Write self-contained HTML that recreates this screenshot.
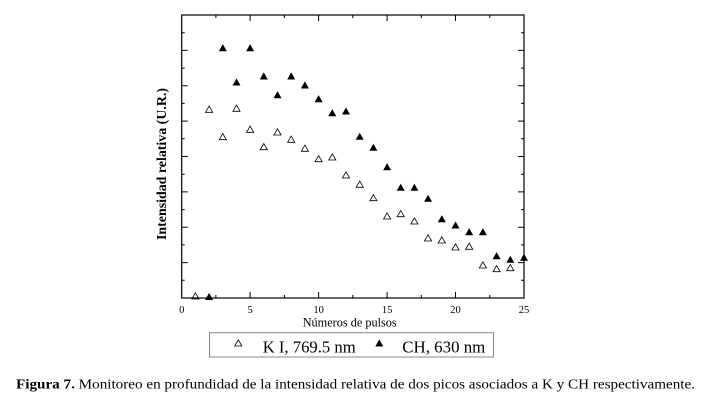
<!DOCTYPE html>
<html><head><meta charset="utf-8"><style>
html,body{margin:0;padding:0;background:#fff;}
svg{display:block;font-family:"Liberation Serif",serif;}
text{font-family:"Liberation Serif",serif;fill:#000;}
</style></head><body>
<svg width="707" height="401" viewBox="0 0 707 401" xmlns="http://www.w3.org/2000/svg" font-family="Liberation Serif, serif">
<defs>
<path id="f" d="M-4,3.5 L4,3.5 L0,-3.6 Z" fill="#000"/>
<path id="o" d="M-3.6,3 L3.6,3 L0,-3.2 Z" fill="none" stroke="#000" stroke-width="0.8"/>
</defs>
<rect x="181.7" y="15" width="342.3" height="283" fill="none" stroke="#000" stroke-width="1.2"/>
<g stroke="#000" stroke-width="1">
<path d="M181.7,32.7h3 M181.7,50.4h6 M181.7,68.1h3 M181.7,85.8h6 M181.7,103.4h3 M181.7,121.1h6 M181.7,138.8h3 M181.7,156.5h6 M181.7,174.2h3 M181.7,191.9h6 M181.7,209.6h3 M181.7,227.3h6 M181.7,244.9h3 M181.7,262.6h6 M181.7,280.3h3"/>
<path d="M524,32.7h-3 M524,50.4h-6 M524,68.1h-3 M524,85.8h-6 M524,103.4h-3 M524,121.1h-6 M524,138.8h-3 M524,156.5h-6 M524,174.2h-3 M524,191.9h-6 M524,209.6h-3 M524,227.3h-6 M524,244.9h-3 M524,262.6h-6 M524,280.3h-3"/>
<path d="M215.9,298v-3 M250.1,298v-6 M284.4,298v-3 M318.6,298v-6 M352.8,298v-3 M387.1,298v-6 M421.3,298v-3 M455.5,298v-6 M489.8,298v-3"/>
<path d="M215.9,15v3 M250.1,15v6 M284.4,15v3 M318.6,15v6 M352.8,15v3 M387.1,15v6 M421.3,15v3 M455.5,15v6 M489.8,15v3"/>
</g>
<g font-size="10.5" text-anchor="middle">
<text x="181.7" y="313">0</text>
<text x="250.1" y="313">5</text>
<text x="318.6" y="313">10</text>
<text x="387.1" y="313">15</text>
<text x="455.5" y="313">20</text>
<text x="524" y="313">25</text>
</g>
<text x="302.7" y="326.7" font-size="13" textLength="94" lengthAdjust="spacingAndGlyphs">Números de pulsos</text>
<text transform="translate(166,240) rotate(-90)" font-size="14" font-weight="bold" textLength="152" lengthAdjust="spacingAndGlyphs">Intensidad relativa (U.R.)</text>
<g>
<use href="#f" x="209.1" y="296.5"/>
<use href="#f" x="222.8" y="47.7"/>
<use href="#f" x="236.5" y="82"/>
<use href="#f" x="250.1" y="47.7"/>
<use href="#f" x="263.8" y="76"/>
<use href="#f" x="277.5" y="94.7"/>
<use href="#f" x="291.2" y="76"/>
<use href="#f" x="304.9" y="85"/>
<use href="#f" x="318.6" y="98.7"/>
<use href="#f" x="332.3" y="112.7"/>
<use href="#f" x="346" y="111"/>
<use href="#f" x="359.7" y="136.3"/>
<use href="#f" x="373.4" y="147.3"/>
<use href="#f" x="387.1" y="166.7"/>
<use href="#f" x="400.7" y="187.3"/>
<use href="#f" x="414.4" y="187.3"/>
<use href="#f" x="428.1" y="198.3"/>
<use href="#f" x="441.8" y="218.7"/>
<use href="#f" x="455.5" y="225"/>
<use href="#f" x="469.2" y="231.7"/>
<use href="#f" x="482.9" y="231.7"/>
<use href="#f" x="496.6" y="255.7"/>
<use href="#f" x="510.3" y="259.3"/>
<use href="#f" x="524" y="257.3"/>
</g>
<g>
<use href="#o" x="195.4" y="296"/>
<use href="#o" x="209.1" y="109.3"/>
<use href="#o" x="222.8" y="136.7"/>
<use href="#o" x="236.5" y="108.3"/>
<use href="#o" x="250.1" y="129.3"/>
<use href="#o" x="263.8" y="146.7"/>
<use href="#o" x="277.5" y="132"/>
<use href="#o" x="291.2" y="139.3"/>
<use href="#o" x="304.9" y="148.3"/>
<use href="#o" x="318.6" y="158.7"/>
<use href="#o" x="332.3" y="157"/>
<use href="#o" x="346" y="175"/>
<use href="#o" x="359.7" y="184.3"/>
<use href="#o" x="373.4" y="197.7"/>
<use href="#o" x="387.1" y="216"/>
<use href="#o" x="400.7" y="213.7"/>
<use href="#o" x="414.4" y="221"/>
<use href="#o" x="428.1" y="238"/>
<use href="#o" x="441.8" y="240"/>
<use href="#o" x="455.5" y="247"/>
<use href="#o" x="469.2" y="246.3"/>
<use href="#o" x="482.9" y="265"/>
<use href="#o" x="496.6" y="268.7"/>
<use href="#o" x="510.3" y="267.7"/>
</g>
<rect x="209.5" y="332.7" width="284" height="24.3" fill="none" stroke="#888" stroke-width="1"/>
<use href="#o" x="238.3" y="343"/>
<use href="#f" x="379.3" y="343"/>
<text x="262.7" y="352.3" font-size="17" textLength="93" lengthAdjust="spacingAndGlyphs">K I, 769.5 nm</text>
<text x="402.3" y="352.3" font-size="17" textLength="83" lengthAdjust="spacingAndGlyphs">CH, 630 nm</text>
<text x="16" y="388.5" font-size="14" textLength="679" lengthAdjust="spacingAndGlyphs"><tspan font-weight="bold">Figura 7.</tspan> Monitoreo en profundidad de la intensidad relativa de dos picos asociados a K y CH respectivamente.</text>
</svg>
</body></html>
